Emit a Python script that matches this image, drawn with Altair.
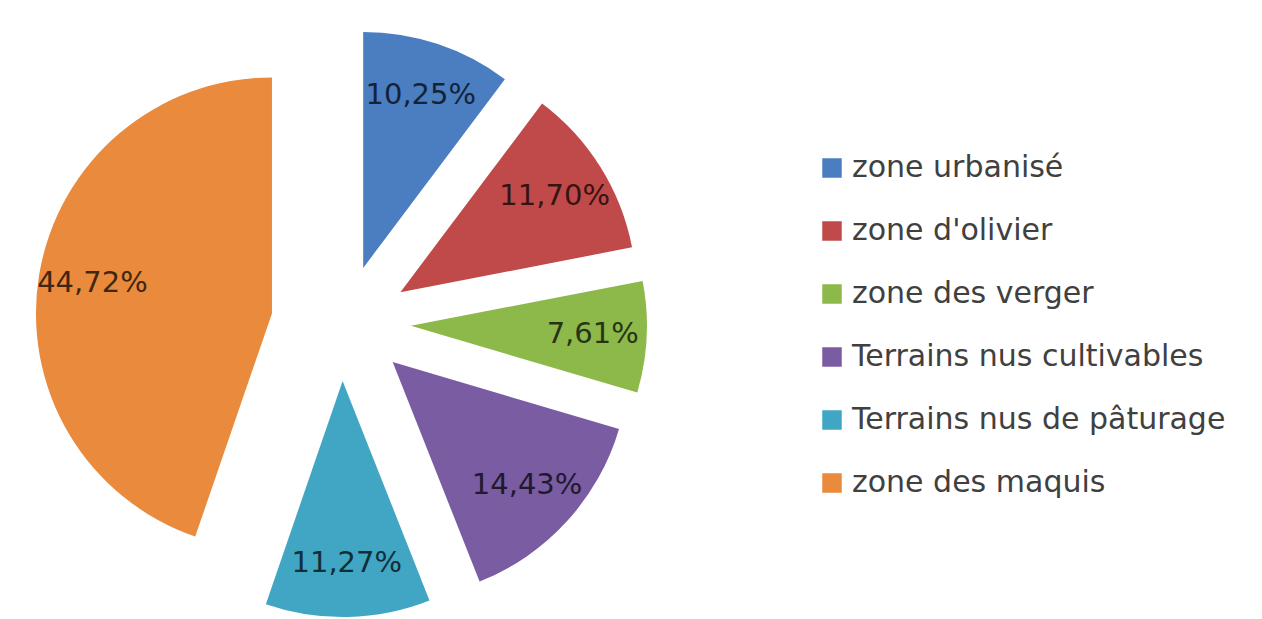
import altair as alt
import pandas as pd

categories = ["zone urbanisé", "zone d'olivier", "zone des verger",
              "Terrains nus cultivables", "Terrains nus de pâturage", "zone des maquis"]
values = [10.25, 11.70, 7.61, 14.43, 11.27, 44.72]
colors = ["#4A7EC0", "#C04A4A", "#8DB84A", "#7A5CA2", "#40A6C4", "#EA8A3C"]

df = pd.DataFrame({"category": categories, "value": values, "order": list(range(len(values)))})

CX, CY = 333, 315      # pie centre (pixels)
DX, DY = 70, 58        # explosion offset
R = 236                # radius
RL = 182               # label radius

base = alt.Chart(df).transform_window(
    cum="sum(value)", sort=[alt.SortField("order", order="ascending")], frame=[None, 0]
).transform_joinaggregate(
    total="sum(value)"
).transform_calculate(
    a0="2*PI*(datum.cum - datum.value)/datum.total",
    a1="2*PI*datum.cum/datum.total",
).transform_calculate(
    mid="(datum.a0 + datum.a1)/2"
).transform_calculate(
    cx=f"{CX} + {DX}*sin(datum.mid)",
    cy=f"{CY} - {DY}*cos(datum.mid)",
).transform_calculate(
    lx=f"datum.cx + {RL}*sin(datum.mid)",
    ly=f"datum.cy - {RL}*cos(datum.mid)",
    label="replace(format(datum.value, '.2f'), '.', ',') + '%'",
)

arcs = base.mark_arc(outerRadius=R, innerRadius=0).encode(
    x=alt.X("cx:Q", scale=None),
    y=alt.Y("cy:Q", scale=None),
    theta=alt.Theta("a0:Q", scale=None),
    theta2=alt.Theta2("a1:Q"),
    color=alt.Color(
        "category:N",
        scale=alt.Scale(domain=categories, range=colors),
        sort=categories,
        legend=alt.Legend(
            title=None, orient="none", legendX=809, legendY=145,
            symbolType="square", symbolSize=380, symbolStrokeWidth=0,
            labelFontSize=30, labelFont="DejaVu Sans", labelColor="#404040",
            labelLimit=0, rowPadding=33, labelOffset=5,
        ),
    ),
)

labels = base.mark_text(
    fontSize=29, font="DejaVu Sans", color="#000000", opacity=0.72,
    align="center", baseline="middle"
).encode(
    x=alt.X("lx:Q", scale=None),
    y=alt.Y("ly:Q", scale=None),
    text="label:N",
)

chart = alt.layer(arcs, labels).properties(
    width=1246, height=603, padding=0
).configure_view(stroke=None)

chart.save("out.html", embed_options={"renderer": "svg", "actions": False})
